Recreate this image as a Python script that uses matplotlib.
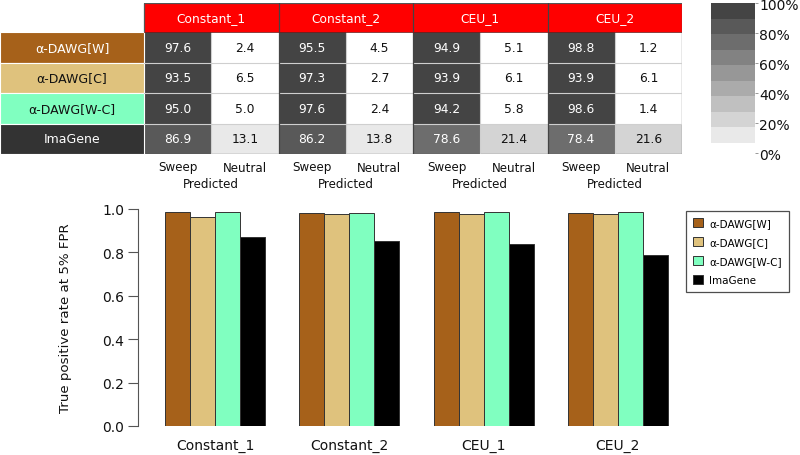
import numpy as np
import matplotlib
matplotlib.use("Agg")
import matplotlib.pyplot as plt
from matplotlib.colors import ListedColormap, BoundaryNorm
from matplotlib.patches import Rectangle

# ---------------- data ----------------
scenarios = ["Constant_1", "Constant_2", "CEU_1", "CEU_2"]
methods = ["α-DAWG[W]", "α-DAWG[C]", "α-DAWG[W-C]", "ImaGene"]
sweep_pct = [
    [97.6, 95.5, 94.9, 98.8],
    [93.5, 97.3, 93.9, 93.9],
    [95.0, 97.6, 94.2, 98.6],
    [86.9, 86.2, 78.6, 78.4],
]
neutral_pct = [
    [2.4, 4.5, 5.1, 1.2],
    [6.5, 2.7, 6.1, 6.1],
    [5.0, 2.4, 5.8, 1.4],
    [13.1, 13.8, 21.4, 21.6],
]
tpr = [
    [0.986, 0.982, 0.986, 0.982],
    [0.961, 0.977, 0.977, 0.979],
    [0.985, 0.982, 0.986, 0.984],
    [0.871, 0.853, 0.841, 0.786],
]
pred_labels = ["Sweep", "Neutral"]
cbar_ticks = [0, 20, 40, 60, 80, 100]

method_colors = ["#a6611a", "#dfc27d", "#80ffc0", "#000000"]
label_bg = ["#a6611a", "#dfc27d", "#80ffc0", "#333333"]
label_fg = ["white", "#111111", "#111111", "white"]

# colour scale for the confusion matrices
levels = np.linspace(100 / 15, 100, 10)
greys = np.linspace(0xe9, 0x44, 9) / 255.0
cmap = ListedColormap([(g, g, g) for g in greys])
cmap.set_under("white")
norm = BoundaryNorm(levels, ncolors=9)

W, H = 800, 456
fig = plt.figure(figsize=(W / 100, H / 100), dpi=100)


def px_axes(x0, y0, x1, y1):
    return fig.add_axes([x0 / W, 1 - y1 / H, (x1 - x0) / W, (y1 - y0) / H])


# ---------------- confusion table ----------------
cell_w = (682 - 144) / 8.0
row_h = (155 - 33) / 4.0
hdr = (33 - 4) / row_h
lab_w = 144 / cell_w
axt = px_axes(0, 4, 682, 155)
axt.set_xlim(-lab_w, 8)
axt.set_ylim(4, -hdr)
axt.axis("off")

vals = np.zeros((4, 8))
for r in range(4):
    for s in range(4):
        vals[r, 2 * s] = sweep_pct[r][s]
        vals[r, 2 * s + 1] = neutral_pct[r][s]
axt.pcolormesh(np.arange(9), np.arange(5), vals, cmap=cmap, norm=norm)
for r in range(4):
    for c in range(8):
        v = vals[r, c]
        axt.text(c + 0.5, r + 0.5, f"{v:.1f}", ha="center", va="center",
                 fontsize=8.8, color="white" if v > 50 else "#111111")

# grid
for r in range(1, 4):
    axt.plot([0, 8], [r, r], color="#cfcfcf", lw=0.8)
for c in range(1, 8, 2):
    axt.plot([c, c], [0, 4], color="#cfcfcf", lw=0.8)

# header
for s, name in enumerate(scenarios):
    axt.add_patch(Rectangle((2 * s, -hdr), 2, hdr, facecolor="#ff0000",
                            edgecolor="none"))
    axt.text(2 * s + 1, -hdr / 2, name, ha="center", va="center",
             color="white", fontsize=8.8)
for c in range(2, 8, 2):
    axt.plot([c, c], [-hdr, 4], color="#444444", lw=0.9)
axt.plot([0, 8], [0, 0], color="#7a1a1a", lw=0.6)
axt.add_patch(Rectangle((0, -hdr), 8, 4 + hdr, facecolor="none",
                        edgecolor="#555555", lw=0.9))

# row labels
for r, m in enumerate(methods):
    axt.add_patch(Rectangle((-lab_w, r), lab_w, 1, facecolor=label_bg[r],
                            edgecolor="white", lw=0.8))
    axt.text(-lab_w / 2, r + 0.5, m, ha="center", va="center",
             color=label_fg[r], fontsize=9)

# predicted labels
for s in range(4):
    for k, pl in enumerate(pred_labels):
        axt.text(2 * s + k + 0.5, 4 + (168 - 155) / row_h, pl, ha="center",
                 va="center", fontsize=8.6, color="#111111", clip_on=False)
    axt.text(2 * s + 1, 4 + (184 - 155) / row_h, "Predicted", ha="center",
             va="center", fontsize=8.6, color="#111111", clip_on=False)

# ---------------- colour bar ----------------
axc = px_axes(711, 4, 755, 154)
axc.set_ylim(0, 100)
axc.set_xlim(0, 1)
axc.pcolormesh([0, 1], levels, ((levels[:-1] + levels[1:]) / 2)[:, None],
               cmap=cmap, norm=norm)
for sp in axc.spines.values():
    sp.set_visible(False)
axc.set_xticks([])
axc.yaxis.tick_right()
axc.set_yticks(cbar_ticks)
axc.set_yticklabels([f"{t}%" for t in cbar_ticks])
axc.tick_params(axis="y", length=2, width=0.6, color="#888888", pad=1,
                labelsize=10, labelcolor="#111111")

# ---------------- bar chart ----------------
axb = px_axes(138, 210, 690, 427)
group_step = 5.37
centers = np.arange(4) * group_step
for m in range(4):
    axb.bar(centers + (m - 1.5), tpr[m], width=1.0, color=method_colors[m],
            edgecolor="#333333", linewidth=0.7, label=methods[m])
axb.set_ylim(0, 1)
axb.set_xlim(-(215 - 138) / 25.0, (690 - 215) / 25.0)
for k in ["top", "right", "bottom"]:
    axb.spines[k].set_visible(False)
axb.spines["left"].set_color("#555555")
axb.spines["left"].set_linewidth(0.8)
axb.set_yticks(np.arange(0, 1.01, 0.2))
axb.set_yticklabels([f"{t:.1f}" for t in np.arange(0, 1.01, 0.2)])
axb.tick_params(axis="y", direction="out", length=7, width=0.8,
                color="#555555", labelsize=10, labelcolor="#111111", pad=3)
axb.set_xticks(centers)
axb.set_xticklabels(scenarios)
axb.tick_params(axis="x", length=0, labelsize=10, labelcolor="#111111",
                pad=9)
axb.set_ylabel("True positive rate at 5% FPR", fontsize=9.6, color="#111111")
axb.yaxis.set_label_coords(-(138 - 72) / 552.0, 0.5)

leg = axb.legend(loc="upper left", bbox_to_anchor=(686 / W, 1 - 212 / H),
                 bbox_transform=fig.transFigure, borderaxespad=0,
                 fontsize=7.5, frameon=True, fancybox=False,
                 handlelength=0.9, handleheight=0.9, handletextpad=0.6,
                 labelspacing=0.85, borderpad=0.7)
leg.get_frame().set_edgecolor("#222222")
leg.get_frame().set_linewidth(0.9)

fig.savefig("out.png", dpi=100)
